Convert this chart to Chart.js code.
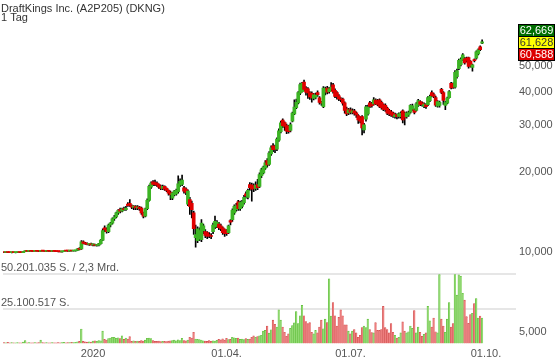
<!DOCTYPE html>
<html><head><meta charset="utf-8">
<script src="https://cdn.jsdelivr.net/npm/chart.js@4/dist/chart.umd.min.js"></script>
<style>html,body{margin:0;padding:0;background:#fff;}#wrap{width:560px;height:363px;position:relative;}</style>
</head><body><div id="wrap"><canvas id="c" width="560" height="363"></canvas></div>
<script>
const titleText = 'DraftKings Inc. (A2P205) (DKNG)';
const subtitleText = '1 Tag';
const opens = [
9.95,9.93,9.94,9.93,9.92,9.93,9.92,9.93,9.94,9.93,
9.92,10.01,10.06,10.03,10.05,10.04,10.03,10.06,10.04,10.02,
10.07,10.05,10.03,10.05,10.04,10.02,10.04,10.03,10.01,10.00,
9.98,10.01,10.07,10.06,10.05,10.08,10.06,10.07,10.10,10.25,
10.25,10.90,10.75,10.70,10.65,10.70,10.60,10.62,10.55,10.58,
10.72,11.05,12.30,12.10,11.90,12.60,12.80,13.30,13.50,14.00,
14.40,14.20,14.50,14.40,15.10,15.20,14.90,14.70,14.80,14.60,
14.70,14.60,14.00,13.60,14.50,15.60,17.50,18.30,18.20,18.10,
17.90,17.60,17.30,17.60,17.30,17.00,16.70,15.90,16.40,16.50,
16.80,17.80,17.90,17.40,17.20,15.10,15.70,15.20,14.00,11.30,
11.00,11.20,11.10,12.00,11.90,11.80,11.60,11.50,11.90,12.40,
12.50,12.70,12.50,12.30,12.10,12.00,11.80,13.10,13.20,14.00,
14.40,15.40,14.50,14.80,15.30,16.50,16.00,17.90,17.80,17.70,
17.30,17.90,17.60,19.30,19.80,20.60,22.00,21.30,23.30,25.00,
24.80,24.30,26.30,28.30,31.30,30.60,29.80,29.60,28.60,31.00,
33.00,34.80,36.30,39.50,40.00,43.50,41.30,41.00,39.60,39.40,
37.70,38.10,39.70,37.90,36.40,35.10,39.80,41.30,40.00,40.80,
42.40,40.50,39.70,38.60,37.60,37.50,36.30,34.50,33.30,34.20,
33.40,33.90,33.30,32.50,31.80,32.20,28.70,31.50,33.00,36.30,
36.00,36.00,37.20,37.00,37.30,36.50,35.80,35.50,34.70,34.00,
33.60,33.20,32.20,32.80,32.30,32.20,33.90,33.20,32.20,32.70,
33.50,34.30,34.20,34.00,35.50,36.70,36.30,35.20,35.80,35.70,
37.00,39.70,39.00,38.00,35.30,35.50,40.80,39.70,35.50,36.20,
38.00,43.00,42.80,41.60,45.50,48.80,50.50,52.60,53.20,53.50,
53.70,52.00,49.30,52.80,53.50,55.50,59.00,60.90];
const highs = [
9.97,9.96,9.96,9.95,9.95,9.96,9.95,9.96,9.97,9.96,
10.02,10.08,10.08,10.07,10.08,10.06,10.07,10.09,10.06,10.08,
10.09,10.07,10.06,10.08,10.06,10.05,10.07,10.05,10.04,10.03,
10.02,10.08,10.10,10.08,10.09,10.10,10.09,10.12,10.28,10.35,
11.00,10.98,10.85,10.80,10.75,10.78,10.70,10.68,10.65,10.75,
11.10,12.20,12.50,12.30,12.70,12.90,13.40,13.70,14.10,14.40,
14.60,14.60,14.70,14.80,15.30,15.70,15.00,14.90,14.90,14.90,
14.80,14.70,14.10,14.60,15.80,17.80,18.30,18.50,18.60,18.30,
18.00,17.80,17.80,17.70,17.40,17.10,16.90,16.70,17.00,17.20,
19.30,18.80,19.40,17.60,17.40,17.10,16.00,15.50,14.20,12.60,
12.40,12.30,13.20,12.70,12.10,11.90,11.80,11.70,12.80,13.60,
13.10,12.90,12.70,12.40,12.20,12.10,12.60,13.20,14.50,15.00,
15.20,15.60,15.50,15.60,16.30,16.80,17.20,18.20,18.10,18.00,
18.30,18.70,19.80,20.60,21.00,22.00,22.40,23.80,25.00,25.50,
25.20,26.80,29.00,31.00,31.60,30.80,30.20,29.90,30.50,33.50,
37.30,37.50,40.00,43.10,43.40,44.20,41.80,41.40,40.00,39.90,
39.40,39.50,40.30,38.30,36.80,41.80,41.60,41.90,41.50,43.30,
43.00,41.00,40.00,39.00,38.00,37.80,36.60,35.00,34.60,34.80,
34.50,34.30,33.60,32.80,32.20,32.50,30.40,35.50,35.60,36.80,
36.50,38.00,37.60,37.40,37.60,36.90,36.00,36.00,35.00,34.30,
34.00,33.50,33.20,33.00,33.30,33.60,34.20,33.50,33.60,33.80,
35.80,35.90,34.50,36.40,37.40,37.00,36.60,36.30,36.10,38.30,
38.80,40.30,39.50,38.50,37.00,36.90,41.20,40.00,36.80,38.20,
40.40,43.40,43.20,48.00,48.60,53.00,53.60,55.60,53.80,54.00,
54.00,52.40,50.80,53.20,57.00,58.00,59.50,62.669];
const lows = [
9.92,9.91,9.92,9.91,9.90,9.91,9.90,9.92,9.92,9.91,
9.91,10.00,10.02,10.01,10.02,10.01,10.02,10.03,10.01,10.01,
10.04,10.02,10.01,10.03,10.01,10.00,10.02,10.00,9.98,9.97,
9.96,10.00,10.04,10.03,10.03,10.05,10.04,10.05,10.08,10.15,
10.20,10.70,10.65,10.60,10.55,10.58,10.50,10.50,10.48,10.52,
10.68,11.00,11.90,11.75,11.80,12.40,12.70,13.10,13.40,13.80,
14.00,14.10,14.30,14.30,14.80,14.80,14.50,14.40,14.40,14.40,
14.30,13.80,13.40,13.50,14.40,15.50,17.30,17.70,17.70,17.60,
17.30,17.10,17.10,17.00,16.80,16.30,15.70,15.70,16.20,16.30,
16.60,17.60,17.70,16.60,16.40,14.90,13.80,13.40,11.60,10.40,
10.80,11.00,10.90,11.70,11.30,11.20,11.30,11.20,11.70,12.20,
12.30,12.10,12.00,11.60,11.40,11.50,11.70,12.60,13.00,13.80,
14.20,14.30,14.30,14.60,15.10,15.90,15.80,17.00,15.50,16.80,
17.00,17.10,17.40,19.00,19.60,20.40,20.80,21.10,23.00,23.80,
23.60,24.00,26.00,28.00,29.30,28.60,27.80,27.90,28.20,30.80,
32.80,34.50,36.00,39.00,39.80,40.30,38.80,37.70,37.40,36.50,
37.20,37.60,38.40,35.90,35.50,34.80,38.90,39.20,39.50,40.30,
39.50,38.00,37.50,37.00,36.70,35.60,33.20,32.50,32.80,33.00,
33.00,32.60,32.00,30.40,30.50,27.50,28.00,31.00,32.60,34.80,
35.00,35.60,35.70,35.40,34.80,34.40,33.90,33.70,32.80,32.50,
32.30,32.00,31.80,31.60,31.80,31.80,30.50,30.00,31.80,32.30,
33.20,34.00,33.00,33.80,35.20,35.40,35.30,34.80,34.60,35.40,
36.70,38.20,38.00,35.20,35.00,35.00,39.30,35.80,34.20,36.00,
37.80,41.00,41.10,41.20,45.00,48.40,50.00,52.30,50.80,51.80,
49.00,49.50,47.80,51.80,53.00,55.00,57.00,60.588];
const closes = [
9.93,9.94,9.93,9.92,9.93,9.92,9.93,9.94,9.93,9.92,
10.01,10.06,10.03,10.05,10.04,10.03,10.06,10.04,10.02,10.07,
10.05,10.03,10.05,10.04,10.02,10.04,10.03,10.01,10.00,9.98,
10.01,10.07,10.06,10.05,10.08,10.06,10.07,10.10,10.25,10.20,
10.90,10.75,10.70,10.65,10.70,10.60,10.62,10.55,10.58,10.72,
11.05,12.00,12.10,11.90,12.60,12.80,13.30,13.50,14.00,14.30,
14.20,14.50,14.40,14.60,14.90,14.95,14.70,14.80,14.60,14.70,
14.50,14.00,13.60,14.50,15.60,17.60,18.10,17.90,17.90,17.80,
17.50,17.30,17.60,17.20,17.00,16.60,16.40,16.60,16.90,17.00,
18.00,18.40,18.60,16.90,16.70,16.90,14.80,14.40,12.20,11.60,
12.20,12.00,12.80,12.50,11.50,11.40,11.50,11.40,12.60,13.00,
12.90,12.30,12.20,11.80,11.70,11.70,12.50,12.90,14.30,14.80,
14.90,14.50,15.30,15.40,16.00,16.20,17.00,17.40,17.20,17.30,
17.80,17.40,19.50,20.30,20.80,21.60,21.20,23.50,24.60,24.20,
24.30,26.50,28.50,30.50,29.80,29.60,28.40,28.30,30.10,33.20,
35.00,36.50,39.70,42.50,43.00,40.80,39.80,39.60,38.20,37.90,
38.90,38.80,39.00,36.40,36.20,41.30,41.00,39.80,41.00,41.60,
40.00,38.40,38.30,37.60,37.30,36.20,34.00,33.00,34.20,33.50,
33.90,33.20,32.70,31.30,31.00,29.20,30.00,35.10,35.00,35.20,
35.40,37.30,36.00,35.80,35.20,34.80,34.30,34.20,33.20,33.00,
32.70,32.40,32.70,32.20,33.00,33.20,31.30,32.00,33.20,33.40,
35.50,35.40,33.40,36.00,37.00,35.80,35.70,35.90,35.10,38.00,
38.40,38.60,38.40,35.60,36.70,36.50,39.70,37.10,36.40,37.80,
40.00,41.30,41.60,47.30,48.00,52.50,53.00,55.00,51.30,52.40,
49.80,50.00,50.50,52.30,56.50,57.50,57.60,61.628];
// volume in millions of shares
const volumes = [
0.6,0.5,0.8,0.4,0.6,0.5,0.4,0.6,0.5,0.4,
1.0,2.2,0.5,0.6,0.4,0.5,0.7,0.5,0.6,2.4,
0.6,0.5,0.7,0.4,0.5,0.6,0.5,0.4,0.7,0.5,
0.6,0.8,0.5,0.6,0.7,0.9,0.6,0.8,1.2,1.5,
10.5,1.5,1.2,1.0,1.3,1.1,1.8,2.0,1.6,2.2,
2.0,9.0,3.0,2.5,3.5,4.0,4.5,4.5,3.8,4.2,
3.5,5.5,3.0,4.0,3.2,5.0,1.5,2.0,1.6,1.8,
1.5,2.2,1.8,2.4,3.8,4.0,3.6,2.2,1.5,1.5,
1.8,1.4,1.6,1.5,1.4,1.7,2.0,2.2,2.4,2.0,
2.6,2.2,3.8,2.2,2.0,2.5,4.5,4.0,8.2,3.2,
3.0,2.8,2.5,2.0,1.8,1.5,2.2,1.6,2.0,1.8,
2.3,3.0,2.6,3.4,2.4,3.8,2.8,3.0,4.5,4.2,
3.8,4.0,3.0,3.2,2.8,3.5,3.0,3.3,4.5,5.5,
4.5,5.0,5.5,6.0,9.0,9.5,12.7,7.5,10.0,17.0,
14.0,12.0,24.5,17.0,12.0,8.2,5.2,7.0,11.0,13.0,
15.0,23.2,14.5,20.2,27.7,20.2,16.0,14.5,15.2,8.2,
7.0,9.5,7.7,12.0,17.0,10.7,17.7,15.2,47.0,20.0,
29.7,20.2,12.7,19.0,24.5,20.2,13.5,13.5,9.0,7.0,
9.0,10.2,7.7,4.5,6.0,11.5,12.7,11.5,17.7,10.2,
8.0,7.7,15.2,9.5,9.5,10.2,27.0,11.5,10.2,7.7,
14.5,8.2,6.0,4.0,4.5,7.7,15.7,9.0,7.7,8.5,
12.7,11.0,24.0,7.7,12.0,8.2,5.2,6.7,7.7,27.0,
16.5,12.0,18.5,8.5,7.7,50.2,17.7,12.7,8.2,17.7,
29.7,12.0,14.5,50.2,35.2,50.0,49.0,36.5,31.5,19.5,
14.7,21.0,22.0,29.0,32.7,18.5,20.0,18.5];
const slotCount = 265;
const tickLabels = {46:'2020', 115:'01.04.', 179:'01.07.', 249:'01.10.'};
const priceTicks = [5, 10, 20, 30, 40, 50];
const volumeLines = [25100517, 50201035];
const volumeLineLabels = ['25.100.517 S.', '50.201.035 S. / 2,3 Mrd.'];
const quoteHigh = 62.669, quoteLast = 61.628, quoteLow = 60.588;

const FONT = '"Liberation Sans", Arial, sans-serif';
Chart.defaults.font.family = FONT;
Chart.defaults.font.size = 11;

const UP = '#3cb424', DOWN = '#e00000';
const categories = Array.from({length: slotCount}, (_, i) => String(i));
const isUp = closes.map((c, i) => c >= opens[i]);
const fmt = v => v.toFixed(3).replace('.', ',');

const overlay = {
  id: 'overlay',
  afterDatasetsDraw(chart) {
    const ctx = chart.ctx, yv = chart.scales.yv;
    ctx.save();
    ctx.font = '11px ' + FONT;
    ctx.fillStyle = '#555';
    ctx.textBaseline = 'alphabetic';
    ctx.textAlign = 'left';
    volumeLines.forEach((v, k) => {
      ctx.fillText(volumeLineLabels[k], 1, yv.getPixelForValue(v) - 3);
    });
    ctx.restore();
  },
  afterDraw(chart) {
    const ctx = chart.ctx, y = chart.scales.y;
    ctx.save();
    ctx.font = '11px ' + FONT;
    ctx.fillStyle = '#333';
    ctx.textAlign = 'left';
    ctx.textBaseline = 'alphabetic';
    ctx.fillText(titleText, 1, 11.5);
    ctx.fillText(subtitleText, 1, 20.5);
    // quote boxes
    const yc = y.getPixelForValue(quoteLast);
    const h = 12, x0 = 518.5, w = 36;
    const boxes = [
      [quoteHigh, '#006e00', '#fff', yc - h * 1.5],
      [quoteLast, '#ffff00', '#333', yc - h * 0.5],
      [quoteLow, '#dd0000', '#fff', yc + h * 0.5]
    ];
    ctx.font = '11px ' + FONT;
    ctx.textAlign = 'center';
    ctx.textBaseline = 'middle';
    boxes.forEach(([v, bg, fg, top]) => {
      ctx.fillStyle = bg;
      ctx.fillRect(x0, Math.round(top) + 0.5, w, h);
      ctx.strokeStyle = '#000';
      ctx.lineWidth = 1;
      ctx.strokeRect(x0, Math.round(top) + 0.5, w, h);
      ctx.fillStyle = fg;
      ctx.fillText(fmt(v), x0 + w / 2, Math.round(top) + 0.5 + h / 2 + 0.5);
    });
    ctx.restore();
  }
};

new Chart(document.getElementById('c'), {
  type: 'bar',
  data: {
    labels: categories,
    datasets: [
      {
        label: 'Volumen',
        data: volumes.map(v => v * 1e6),
        yAxisID: 'yv',
        backgroundColor: isUp.map(u => u ? '#92d972' : '#ec7e7e'),
        borderColor: isUp.map(u => u ? '#5cbc38' : '#cf4a4a'),
        borderWidth: {left: 0.6, top: 0.6, right: 0, bottom: 0},
        barPercentage: 1, categoryPercentage: 1,
        grouped: false, order: 5
      },
      {
        label: 'Docht',
        data: lows.map((l, i) => [l, highs[i]]),
        yAxisID: 'y',
        backgroundColor: '#000',
        barThickness: 1,
        grouped: false, order: 3
      },
      {
        label: 'Kerze',
        data: opens.map((o, i) => [o, closes[i]]),
        yAxisID: 'y',
        backgroundColor: isUp.map(u => u ? UP : DOWN),
        barThickness: 3,
        minBarLength: 1,
        grouped: false, order: 1
      }
    ]
  },
  options: {
    responsive: false,
    devicePixelRatio: 1,
    animation: false,
    layout: {padding: {top: 22, left: 0, right: 0, bottom: 0}},
    plugins: {legend: {display: false}, tooltip: {enabled: false}, title: {display: false}},
    scales: {
      x: {
        type: 'category',
        offset: true,
        grid: {display: false, drawTicks: false},
        border: {display: false},
        ticks: {
          autoSkip: false, maxRotation: 0, minRotation: 0, padding: 4,
          color: '#555', font: {size: 11},
          callback: (v, i) => tickLabels[i] || ''
        },
        afterFit: s => { s.height = 19.5; }
      },
      y: {
        type: 'logarithmic',
        position: 'right',
        min: 4.513, max: 73.14,
        grid: {display: false, drawTicks: false},
        border: {display: false},
        ticks: {color: '#555', font: {size: 11}, padding: 3, callback: v => fmt(v)},
        afterBuildTicks: s => { s.ticks = priceTicks.map(v => ({value: v})); },
        afterFit: s => { s.width = 44; }
      },
      yv: {
        type: 'linear',
        position: 'left',
        min: 0, max: 233.9e6,
        grid: {color: '#e6e6e6', lineWidth: 2, drawTicks: false},
        border: {display: false},
        ticks: {display: false},
        afterBuildTicks: s => { s.ticks = volumeLines.map(v => ({value: v})); },
        afterFit: s => { s.width = 0; }
      }
    }
  },
  plugins: [overlay]
});
</script>
</body></html>
